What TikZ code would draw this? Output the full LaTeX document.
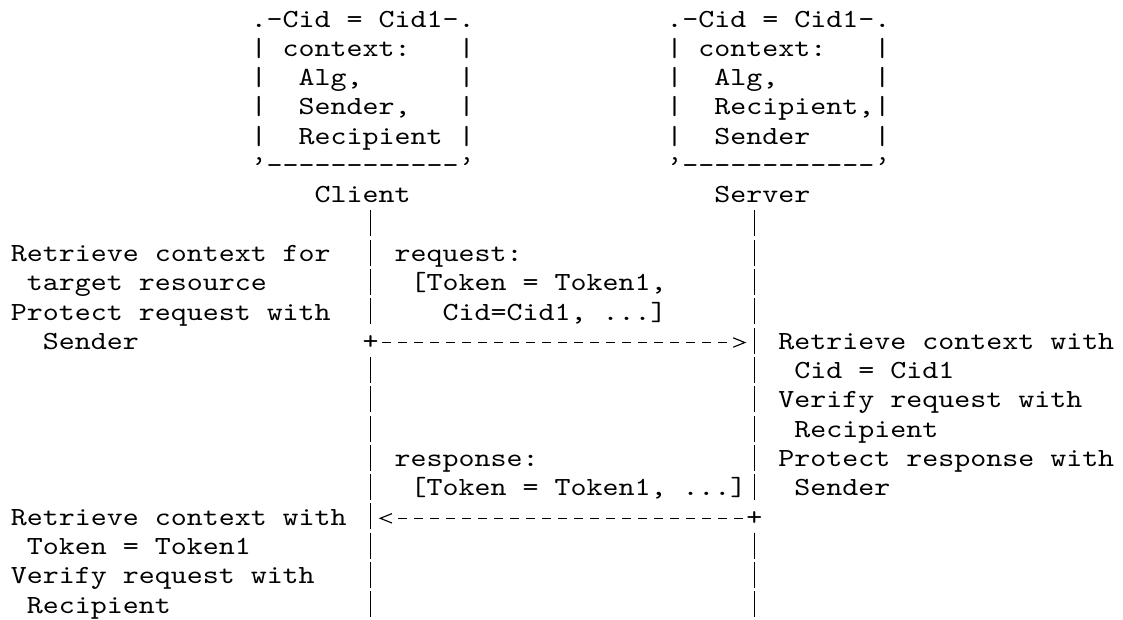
\documentclass[tikz,border=0pt]{standalone}
\usepackage{fontspec}
% Courier-like monospaced face: Latin Modern Mono, widened to a 0.6em cell
\setmonofont[FakeStretch=1.1655]{lmmono10-regular.otf}

% character grid (1 unit = 1px): column left edge and row baseline
\newcommand*\colx[1]{10.9+15.99*(#1)}
\newcommand*\rowy[1]{-27-29.3*(#1-1)}
\newcommand\asciiblock[1]{\begin{tabular}[t]{@{}l@{}}#1\end{tabular}}

% open chevron tip, like a typed ">" ; the shaft stops at its back
\pgfarrowsdeclare{chev}{chev}
{\pgfarrowsleftextend{-0.5\pgflinewidth}\pgfarrowsrightextend{8.775pt}}
{\pgfsetdash{}{0pt}\pgfsetmiterjoin\pgfsetbuttcap
 \pgfpathmoveto{\pgfqpoint{0pt}{3.525pt}}
 \pgfpathlineto{\pgfqpoint{8.775pt}{0pt}}
 \pgfpathlineto{\pgfqpoint{0pt}{-3.525pt}}
 \pgfusepathqstroke}

\tikzset{
  txt/.style={anchor=base west, inner sep=0pt, outer sep=0pt,
    font=\ttfamily\fontsize{19.6}{21.975}\selectfont},
  plusmark/.style={txt, text height=10.2pt, text depth=0pt},
  life/.style={line width=1.1pt, dash pattern=on 19.5pt off 2.475pt},
  msg/.style={line width=0.85pt, dash pattern=on 6.75pt off 5.2425pt, -chev,
    shorten <=8.6175pt, shorten >=7.1925pt},
}

\begin{document}
\begin{tikzpicture}[x=0.75pt, y=0.75pt]
\useasboundingbox (0,0) rectangle (1123,-619);

% security contexts
\node[txt] (cbox) at ({\colx{15}},{\rowy{1}}) {\asciiblock{%
.-Cid~=~Cid1-.\\
|~context:~~~|\\
|~~Alg,~~~~~~|\\
|~~Sender,~~~|\\
|~~Recipient~|\\
’------------’}};
\node[txt] (sbox) at ({\colx{41}},{\rowy{1}}) {\asciiblock{%
.-Cid~=~Cid1-.\\
|~context:~~~|\\
|~~Alg,~~~~~~|\\
|~~Recipient,|\\
|~~Sender~~~~|\\
’------------’}};

% endpoints
\node[txt] (client) at ({\colx{19}},{\rowy{7}}) {Client};
\node[txt] (server) at ({\colx{44}},{\rowy{7}}) {Server};

% lifeline end points
\coordinate (cl-a) at ({\colx{22}+8},{\rowy{8}+21.7});
\coordinate (cl-b) at ({\colx{22}+8},{\rowy{11}-4.3});
\coordinate (cl-c) at ({\colx{22}+8},{\rowy{13}+21.7});
\coordinate (cl-d) at ({\colx{22}+8},{\rowy{21}-4.3});
\coordinate (sv-a) at ({\colx{46}+8},{\rowy{8}+21.7});
\coordinate (sv-b) at ({\colx{46}+8},{\rowy{17}-4.3});
\coordinate (sv-c) at ({\colx{46}+8},{\rowy{19}+21.7});
\coordinate (sv-d) at ({\colx{46}+8},{\rowy{21}-4.3});

% junctions where the messages leave the lifelines
\node[plusmark] (cplus) at ({\colx{22}},{\rowy{12}}) {+};
\node[plusmark] (splus) at ({\colx{46}},{\rowy{18}}) {+};

% lifelines
\draw[life] (cl-a) -- (cl-b) (cl-c) -- (cl-d);
\draw[life] (sv-a) -- (sv-b) (sv-c) -- (sv-d);

% messages
\draw[msg] (cplus.center) -- (cplus.center -| sv-a);
\draw[msg] (splus.center) -- (splus.center -| cl-a);

% message contents
\node[txt] (req) at ({\colx{24}},{\rowy{9}}) {\asciiblock{%
request:\\
\ [Token~=~Token1,\\
\ \ \ Cid=Cid1,~...]}};
\node[txt] (resp) at ({\colx{24}},{\rowy{16}}) {\asciiblock{%
response:\\
\ [Token~=~Token1,~...]}};

% processing steps
\node[txt] (cstep1) at ({\colx{0}},{\rowy{9}}) {\asciiblock{%
Retrieve~context~for\\
\ target~resource\\
Protect~request~with\\
\ \ Sender}};
\node[txt] (sstep) at ({\colx{48}},{\rowy{12}}) {\asciiblock{%
Retrieve~context~with\\
\ Cid~=~Cid1\\
Verify~request~with\\
\ Recipient\\
Protect~response~with\\
\ Sender}};
\node[txt] (cstep2) at ({\colx{0}},{\rowy{18}}) {\asciiblock{%
Retrieve~context~with\\
\ Token~=~Token1\\
Verify~request~with\\
\ Recipient}};
\end{tikzpicture}
\end{document}
